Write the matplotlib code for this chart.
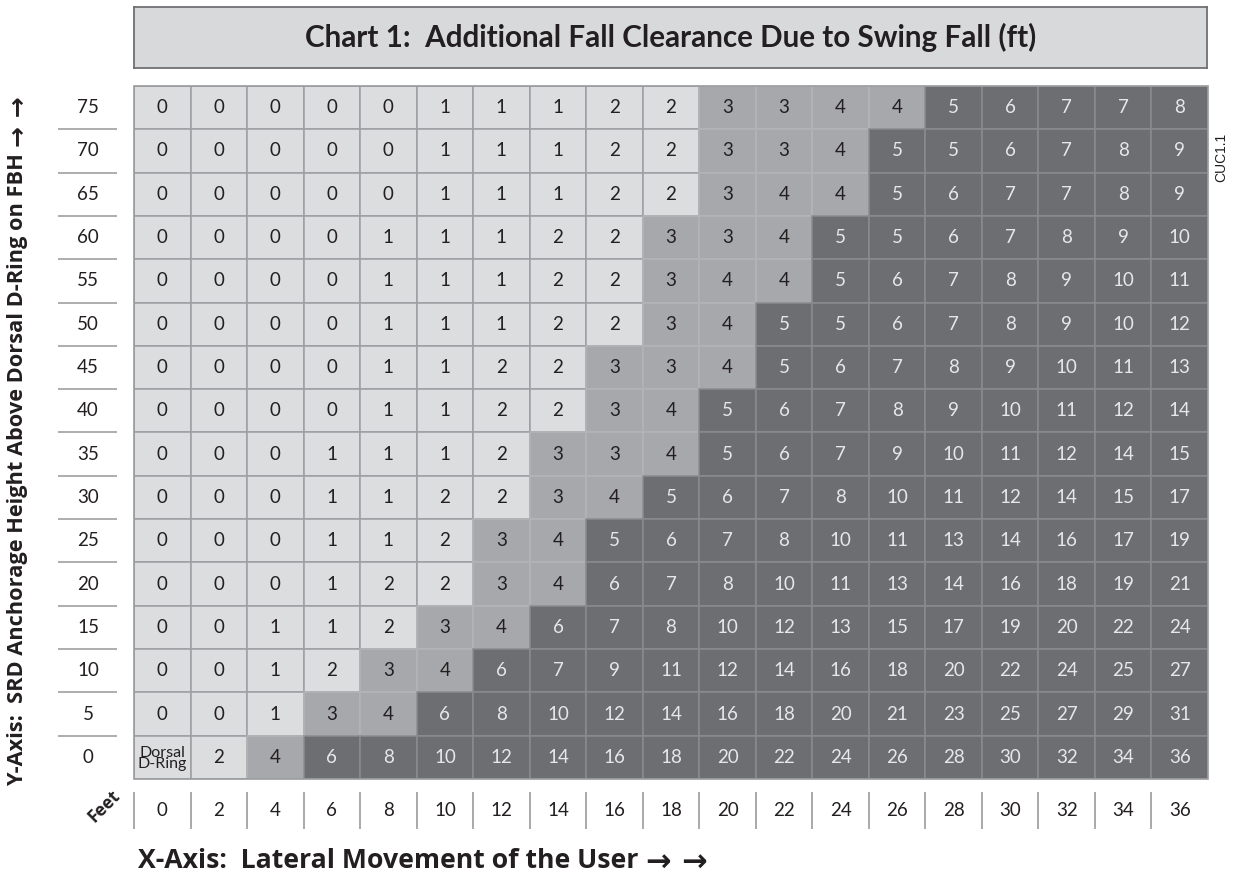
import matplotlib
matplotlib.use("Agg")
import matplotlib.pyplot as plt
from matplotlib.patches import Rectangle

# ---- data ----
x_labels = [0, 2, 4, 6, 8, 10, 12, 14, 16, 18, 20, 22, 24, 26, 28, 30, 32, 34, 36]
y_labels = [75, 70, 65, 60, 55, 50, 45, 40, 35, 30, 25, 20, 15, 10, 5, 0]
row75 = [0, 0, 0, 0, 0, 1, 1, 1, 2, 2, 3, 3, 4, 4, 5, 6, 7, 7, 8]
row70 = [0, 0, 0, 0, 0, 1, 1, 1, 2, 2, 3, 3, 4, 5, 5, 6, 7, 8, 9]
row65 = [0, 0, 0, 0, 0, 1, 1, 1, 2, 2, 3, 4, 4, 5, 6, 7, 7, 8, 9]
row60 = [0, 0, 0, 0, 1, 1, 1, 2, 2, 3, 3, 4, 5, 5, 6, 7, 8, 9, 10]
row55 = [0, 0, 0, 0, 1, 1, 1, 2, 2, 3, 4, 4, 5, 6, 7, 8, 9, 10, 11]
row50 = [0, 0, 0, 0, 1, 1, 1, 2, 2, 3, 4, 5, 5, 6, 7, 8, 9, 10, 12]
row45 = [0, 0, 0, 0, 1, 1, 2, 2, 3, 3, 4, 5, 6, 7, 8, 9, 10, 11, 13]
row40 = [0, 0, 0, 0, 1, 1, 2, 2, 3, 4, 5, 6, 7, 8, 9, 10, 11, 12, 14]
row35 = [0, 0, 0, 1, 1, 1, 2, 3, 3, 4, 5, 6, 7, 9, 10, 11, 12, 14, 15]
row30 = [0, 0, 0, 1, 1, 2, 2, 3, 4, 5, 6, 7, 8, 10, 11, 12, 14, 15, 17]
row25 = [0, 0, 0, 1, 1, 2, 3, 4, 5, 6, 7, 8, 10, 11, 13, 14, 16, 17, 19]
row20 = [0, 0, 0, 1, 2, 2, 3, 4, 6, 7, 8, 10, 11, 13, 14, 16, 18, 19, 21]
row15 = [0, 0, 1, 1, 2, 3, 4, 6, 7, 8, 10, 12, 13, 15, 17, 19, 20, 22, 24]
row10 = [0, 0, 1, 2, 3, 4, 6, 7, 9, 11, 12, 14, 16, 18, 20, 22, 24, 25, 27]
row5 = [0, 0, 1, 3, 4, 6, 8, 10, 12, 14, 16, 18, 20, 21, 23, 25, 27, 29, 31]
row0 = [0, 2, 4, 6, 8, 10, 12, 14, 16, 18, 20, 22, 24, 26, 28, 30, 32, 34, 36]
rows = [row75, row70, row65, row60, row55, row50, row45, row40, row35,
        row30, row25, row20, row15, row10, row5, row0]

title = "Chart 1:  Additional Fall Clearance Due to Swing Fall (ft)"
xlabel = "X-Axis:  Lateral Movement of the User"
ylabel = "Y-Axis:  SRD Anchorage Height Above Dorsal D-Ring on FBH"
arrows = "\u2192 \u2192"
origin_label = "Dorsal\nD-Ring"
code_label = "CUC1.1"

# ---- style ----
FAM = ["Lato", "DejaVu Sans"]
LABFAM = ["Open Sans", "DejaVu Sans"]
plt.rcParams["font.family"] = FAM
LIGHT, MED, DARK = "#dcdddf", "#a7a8ab", "#6d6e71"
EDGE = {LIGHT: "#9d9ea1", MED: "#b3b4b6", DARK: "#8a8b8e"}
TXT_DARK, TXT_LIGHT = "#231f20", "#e6e7e8"
NUM_FS = 13.5

W, H = 1238, 875
fig = plt.figure(figsize=(W / 100, H / 100), dpi=100)

def fx(px):
    return px / W

def fy(py):
    return 1 - py / H

# table axes
L, R, T, B = 134, 1208, 86, 779
ax = fig.add_axes([fx(L), fy(B), fx(R - L), (B - T) / H])
ncol, nrow = len(x_labels), len(y_labels)
ax.set_xlim(0, ncol)
ax.set_ylim(0, nrow)
ax.axis("off")

def color_for(v):
    if v <= 2:
        return LIGHT
    if v <= 4:
        return MED
    return DARK

cells = []
for ri, (yl, vals) in enumerate(zip(y_labels, rows)):
    yi = nrow - 1 - ri
    for ci, v in enumerate(vals):
        cells.append((yi, ci, v))

order = {LIGHT: 0, MED: 1, DARK: 2}
for yi, ci, v in sorted(cells, key=lambda c: order[color_for(c[2])]):
    c = color_for(v)
    ax.add_patch(Rectangle((ci, yi), 1, 1, facecolor=c, edgecolor=EDGE[c],
                           linewidth=1.1, zorder=1 + order[c]))
for yi, ci, v in cells:
    c = color_for(v)
    tc = TXT_LIGHT if c == DARK else TXT_DARK
    if yi == 0 and ci == 0:
        ax.text(ci + 0.5, yi + 0.47, origin_label, ha="center", va="center",
                fontsize=11.5, color=tc, linespacing=0.78, zorder=5)
    else:
        ax.text(ci + 0.5, yi + 0.5, str(v), ha="center", va="center",
                fontsize=NUM_FS, color=tc, zorder=5)

# outer border
ax.add_patch(Rectangle((0, 0), ncol, nrow, facecolor="none", edgecolor="#9a9b9d",
                       linewidth=1.2, zorder=6, clip_on=False))

# y tick labels & separators
cw = (R - L) / ncol
rh = (B - T) / nrow
for ri, yl in enumerate(y_labels):
    yi = nrow - 1 - ri
    ax.text((88 - L) / cw, yi + 0.5, str(yl), ha="center", va="center",
            fontsize=NUM_FS, color=TXT_DARK, clip_on=False)
ax.hlines(range(1, nrow), (58 - L) / cw, (117 - L) / cw, colors="#a6a7a9",
          linewidth=1.3, clip_on=False)

# x tick labels & separators
for ci, xl in enumerate(x_labels):
    ax.text(ci + 0.5, -(810 - B) / rh, str(xl), ha="center", va="center",
            fontsize=NUM_FS, color=TXT_DARK, clip_on=False)
ax.vlines(range(0, ncol), -(829 - B) / rh, -(792 - B) / rh, colors="#9a9b9d",
          linewidth=1.2, clip_on=False)
ax.text((104 - L) / cw, -(806 - B) / rh, "Feet", ha="center", va="center",
        rotation=45, fontsize=12.5, fontweight="bold", color=TXT_DARK,
        clip_on=False, family=LABFAM)

# title box
tax = fig.add_axes([fx(134), fy(68), fx(1207 - 134), 61 / H])
tax.set_facecolor("#d8d9db")
tax.set_xticks([])
tax.set_yticks([])
for s in tax.spines.values():
    s.set_color("#6f7073")
    s.set_linewidth(1.3)
tax.text(0.5, 0.5, title, ha="center", va="center", fontsize=21.3,
         fontweight="bold", color="#231f20", transform=tax.transAxes)

# axis labels
xt = fig.text(fx(138), fy(861), xlabel, ha="left", va="center", fontsize=19.2,
              fontweight="bold", color="#231f20", family=LABFAM)
ax.annotate(arrows, xy=(1, 0.45), xycoords=xt, xytext=(8, 0),
            textcoords="offset pixels", ha="left", va="center", fontsize=22,
            fontweight="bold", color="#231f20", family="DejaVu Sans",
            annotation_clip=False)
yt = fig.text(fx(18), fy(786), ylabel, ha="center", va="bottom", rotation=90,
              fontsize=15.7, fontweight="bold", color="#231f20", family=LABFAM)
ax.annotate(arrows, xy=(0.55, 1), xycoords=yt, xytext=(0, 6),
            textcoords="offset pixels", ha="center", va="bottom", rotation=90,
            fontsize=18, fontweight="bold", color="#231f20",
            family="DejaVu Sans", annotation_clip=False)
fig.text(fx(1221), fy(157), code_label, ha="center", va="center", rotation=90,
         fontsize=10, color="#231f20", family=["Liberation Sans", "DejaVu Sans"])

fig.savefig("out.png", dpi=100)
